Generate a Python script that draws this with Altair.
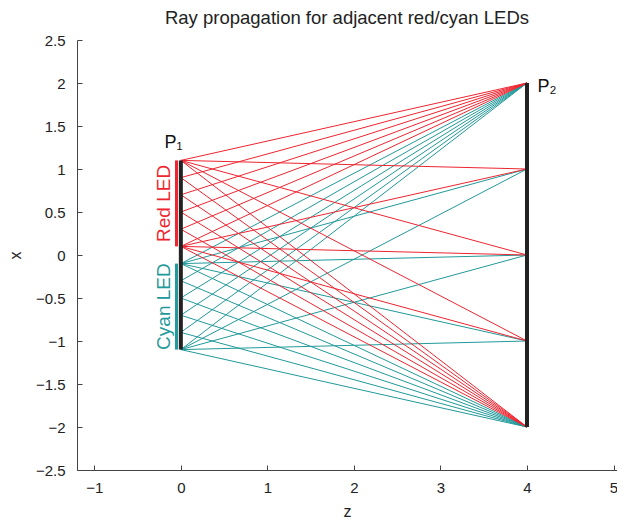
import altair as alt
import pandas as pd

# ---- data ----
target_x = [2, 1, 0, -1, -2]          # points on plane P2 (z = 4)
red_sources = [1.1, 0.9, 0.7, 0.5, 0.3, 0.1]
cyan_sources = [-0.1, -0.3, -0.5, -0.7, -0.9, -1.1]
z_p1 = 0
z_p2 = 4
x_ticks = [-1, 0, 1, 2, 3, 4, 5]
y_ticks = [-2.5, -2, -1.5, -1, -0.5, 0, 0.5, 1, 1.5, 2, 2.5]

RED = "#ee2530"
CYAN = "#22999a"


def rays_for(sources, led):
    rows = []
    edges = {sources[0], sources[-1]}
    for s in sources:
        for t in target_x:
            if abs(t) == 2 or s in edges:
                rows.append({"z": z_p1, "x": s, "z2": z_p2, "x2": t, "led": led})
    return rows


rays = pd.DataFrame(rays_for(cyan_sources, "Cyan") + rays_for(red_sources, "Red"))

bars = pd.DataFrame([
    {"z": z_p1, "x": -1.1, "z2": z_p1, "x2": 1.1},
    {"z": z_p2, "x": -2, "z2": z_p2, "x2": 2},
])
leds = pd.DataFrame([
    {"z": -0.05, "x": 0.1, "z2": -0.05, "x2": 1.1, "led": "Red"},
    {"z": -0.05, "x": -0.1, "z2": -0.05, "x2": -1.1, "led": "Cyan"},
])
led_labels = pd.DataFrame([
    {"z": -0.2, "x": 0.6, "label": "Red LED", "led": "Red"},
    {"z": -0.2, "x": -0.6, "label": "Cyan LED", "led": "Cyan"},
])
plane_labels = pd.DataFrame([
    {"z": -0.19, "x": 1.25, "label": "P₁"},
    {"z": 4.12, "x": 1.9, "label": "P₂"},
])

xs = alt.Scale(domain=[-1.2, 5.04], nice=False, zero=False)
ys = alt.Scale(domain=[-2.5, 2.5], nice=False, zero=False)
cs = alt.Scale(domain=["Red", "Cyan"], range=[RED, CYAN])

axis_common = dict(
    domainColor="#444", tickColor="#444", labelColor="#222", titleColor="#222",
    labelFont="Liberation Sans", titleFont="Liberation Sans",
    labelFontSize=15, titleFontSize=16, titleFontWeight="normal",
    grid=False, tickSize={"expr": "-5"}, format="~g",
)

base = alt.Chart(rays)

ray_layer = base.mark_rule(strokeWidth=1).encode(
    x=alt.X("z:Q", scale=xs, title="z",
            axis=alt.Axis(values=x_ticks, labelPadding=15, titlePadding=8, **axis_common)),
    y=alt.Y("x:Q", scale=ys, title="x",
            axis=alt.Axis(values=y_ticks, labelPadding=17, titlePadding=12, **axis_common)),
    x2="z2:Q", y2="x2:Q",
    color=alt.Color("led:N", scale=cs, legend=None),
)

bar_layer = alt.Chart(bars).mark_rule(strokeWidth=4, color="#222").encode(
    x="z:Q", y="x:Q", x2="z2:Q", y2="x2:Q"
)

led_layer = alt.Chart(leds).mark_rule(strokeWidth=3).encode(
    x="z:Q", y="x:Q", x2="z2:Q", y2="x2:Q",
    color=alt.Color("led:N", scale=cs, legend=None),
)

led_text = alt.Chart(led_labels).mark_text(
    angle=270, font="Liberation Sans", fontSize=19, baseline="middle", align="center"
).encode(
    x="z:Q", y="x:Q", text="label:N",
    color=alt.Color("led:N", scale=cs, legend=None),
)

plane_text = alt.Chart(plane_labels).mark_text(
    font="Liberation Sans", fontSize=18, align="left", baseline="alphabetic", color="#111"
).encode(x="z:Q", y="x:Q", text="label:N")

chart = alt.layer(ray_layer, bar_layer, led_layer, led_text, plane_text).properties(
    width=540, height=430,
    padding={"left": 69, "top": 32, "right": 0, "bottom": 49},
    autosize=alt.AutoSizeParams(type="none"),
    title=alt.TitleParams(
        "Ray propagation for adjacent red/cyan LEDs",
        font="Liberation Sans", fontSize=18.5, fontWeight="normal", color="#222",
        offset=6, anchor="middle",
    ),
).configure_view(stroke=None)

chart.save("out.html", embed_options={"renderer": "svg", "actions": False})
